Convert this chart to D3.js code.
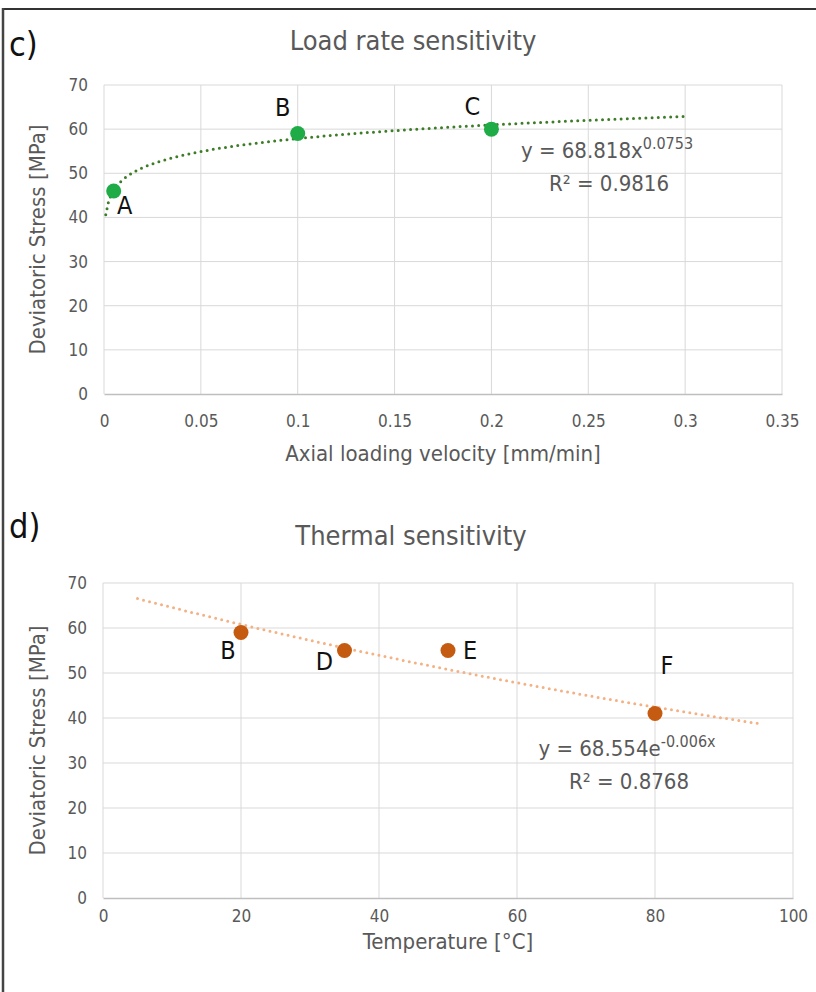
<!DOCTYPE html>
<html>
<head>
<meta charset="utf-8">
<script src="https://cdn.jsdelivr.net/npm/d3@7"></script>
<style>
  html, body { margin: 0; padding: 0; background: #fff; }
  svg { display: block; font-family: "Liberation Sans Narrow", "DejaVu Sans Condensed", "Open Sans", sans-serif; }
</style>
</head>
<body>
<svg id="chart" width="816" height="992"></svg>
<script>
// panel c) load rate
const rateLabels = ['A', 'B', 'C'];
const rateX = [0.005, 0.1, 0.2];
const rateY = [46, 59, 60];
const rateFit = { a: 68.818, b: 0.0753, from: 0.0009, to: 0.3 };
const rateTicksX = [0, 0.05, 0.1, 0.15, 0.2, 0.25, 0.3, 0.35];

// panel d) temperature
const tempLabels = ['B', 'D', 'E', 'F'];
const tempX = [20, 35, 50, 80];
const tempY = [59, 55, 55, 41];
const tempFit = { a: 68.554, b: -0.006, from: 5, to: 95 };
const tempTicksX = [0, 20, 40, 60, 80, 100];

const stressTicks = [0, 10, 20, 30, 40, 50, 60, 70];

const svg = d3.select('#chart');
const GRID = '#d9d9d9';
const TEXT = '#595959';

// frame: top and left rule only
svg.append('line').attr('x1', 2).attr('x2', 816).attr('y1', 9).attr('y2', 9)
    .attr('stroke', '#333').attr('stroke-width', 2);
svg.append('line').attr('x1', 3).attr('x2', 3).attr('y1', 8).attr('y2', 992)
    .attr('stroke', '#444').attr('stroke-width', 2.5);

function drawPanel(opt) {
    const x = d3.scaleLinear().domain(opt.xDomain).range([opt.left, opt.right]);
    const y = d3.scaleLinear().domain([0, 70]).range([opt.bottom, opt.top]);
    const g = svg.append('g');

    g.append('text').attr('x', 9).attr('y', opt.tagY)
        .style('font-size', '34px').attr('fill', '#111').text(opt.tag);
    g.append('text').attr('x', opt.titleX).attr('y', opt.titleY)
        .attr('text-anchor', 'middle').style('font-size', '27px').attr('fill', TEXT)
        .text(opt.title);

    // gridlines
    g.append('g').selectAll('line').data(stressTicks.slice(1)).enter().append('line')
        .attr('x1', opt.left).attr('x2', opt.right)
        .attr('y1', d => y(d)).attr('y2', d => y(d))
        .attr('stroke', GRID).attr('stroke-width', 1);
    g.append('g').selectAll('line').data(opt.ticksX.slice(1)).enter().append('line')
        .attr('x1', d => x(d)).attr('x2', d => x(d))
        .attr('y1', opt.top).attr('y2', opt.bottom)
        .attr('stroke', GRID).attr('stroke-width', 1);
    g.append('line').attr('x1', opt.left).attr('x2', opt.left)
        .attr('y1', opt.top).attr('y2', opt.bottom)
        .attr('stroke', GRID).attr('stroke-width', 1);

    // axes via d3
    const xAxis = g.append('g').attr('transform', `translate(0,${opt.bottom})`)
        .call(d3.axisBottom(x).tickValues(opt.ticksX).tickSize(0).tickPadding(opt.xPad)
            .tickFormat(d => String(d)));
    xAxis.select('.domain').attr('stroke', '#bfbfbf').attr('stroke-width', 1.3);
    xAxis.selectAll('text').style('font-size', '17px').attr('fill', TEXT);
    xAxis.attr('font-family', null);

    const yAxis = g.append('g').attr('transform', `translate(${opt.left},0)`)
        .call(d3.axisLeft(y).tickValues(stressTicks).tickSize(0).tickPadding(16));
    yAxis.select('.domain').remove();
    yAxis.selectAll('text').style('font-size', '17px').attr('fill', TEXT);
    yAxis.attr('font-family', null);

    g.append('text').attr('transform', `translate(45,${(opt.top + opt.bottom) / 2}) rotate(-90)`)
        .attr('text-anchor', 'middle').style('font-size', '22px').attr('fill', TEXT)
        .text('Deviatoric Stress [MPa]');
    g.append('text').attr('x', (opt.left + opt.right) / 2).attr('y', opt.xTitleY)
        .attr('text-anchor', 'middle').style('font-size', '22px').attr('fill', TEXT)
        .text(opt.xTitle);

    // trendline from the printed fit
    const n = 200;
    const pts = d3.range(n + 1).map(i => {
        const xv = opt.fit.from + (opt.fit.to - opt.fit.from) * i / n;
        return [xv, opt.fitFn(xv)];
    });
    g.append('path').datum(pts)
        .attr('d', d3.line().x(d => x(d[0])).y(d => y(d[1])))
        .attr('fill', 'none').attr('stroke', opt.fitColor).attr('stroke-width', 3)
        .attr('stroke-dasharray', '0 6.2').attr('stroke-linecap', 'round');

    // points
    const data = opt.xs.map((v, i) => ({ x: v, y: opt.ys[i], label: opt.labels[i] }));
    g.append('g').selectAll('circle').data(data).enter().append('circle')
        .attr('cx', d => x(d.x)).attr('cy', d => y(d.y)).attr('r', 7.5)
        .attr('fill', opt.color);
    g.append('g').selectAll('text').data(data).enter().append('text')
        .attr('x', (d, i) => x(d.x) + opt.labelOff[i][0])
        .attr('y', (d, i) => y(d.y) + opt.labelOff[i][1])
        .style('font-size', '25px').attr('fill', '#111').attr('text-anchor', 'middle')
        .text(d => d.label);

    // equation
    const eq = g.append('text').attr('x', opt.eqX).attr('y', opt.eqY)
        .attr('text-anchor', 'middle').style('font-size', '22px').attr('fill', TEXT);
    eq.append('tspan').text(opt.eqMain);
    eq.append('tspan').style('font-size', '16px').attr('dy', -9).text(opt.eqSup);
    g.append('text').attr('x', opt.eqX + 2).attr('y', opt.eqY + 33)
        .attr('text-anchor', 'middle').style('font-size', '22px').attr('fill', TEXT)
        .text(opt.r2);
}

drawPanel({
    tag: 'c)', tagY: 56, title: 'Load rate sensitivity', titleX: 413, titleY: 50,
    left: 104, right: 782, top: 85, bottom: 394, xDomain: [0, 0.35], ticksX: rateTicksX,
    xPad: 21, xTitle: 'Axial loading velocity [mm/min]', xTitleY: 461,
    xs: rateX, ys: rateY, labels: rateLabels, color: '#1fac47',
    labelOff: [[11, 23], [-15, -18], [-19, -14]],
    fit: rateFit, fitFn: v => rateFit.a * Math.pow(v, rateFit.b), fitColor: '#3e7d27',
    eqX: 607, eqY: 158, eqMain: 'y = 68.818x', eqSup: '0.0753', r2: 'R² = 0.9816'
});

drawPanel({
    tag: 'd)', tagY: 538, title: 'Thermal sensitivity', titleX: 411, titleY: 545,
    left: 103, right: 793, top: 583, bottom: 898, xDomain: [0, 100], ticksX: tempTicksX,
    xPad: 12, xTitle: 'Temperature [°C]', xTitleY: 949,
    xs: tempX, ys: tempY, labels: tempLabels, color: '#c55a11',
    labelOff: [[-13, 26], [-20, 19], [22, 8], [12, -40]],
    fit: tempFit, fitFn: v => tempFit.a * Math.exp(tempFit.b * v), fitColor: '#f4b183',
    eqX: 627, eqY: 756, eqMain: 'y = 68.554e', eqSup: '-0.006x', r2: 'R² = 0.8768'
});
</script>
</body>
</html>
